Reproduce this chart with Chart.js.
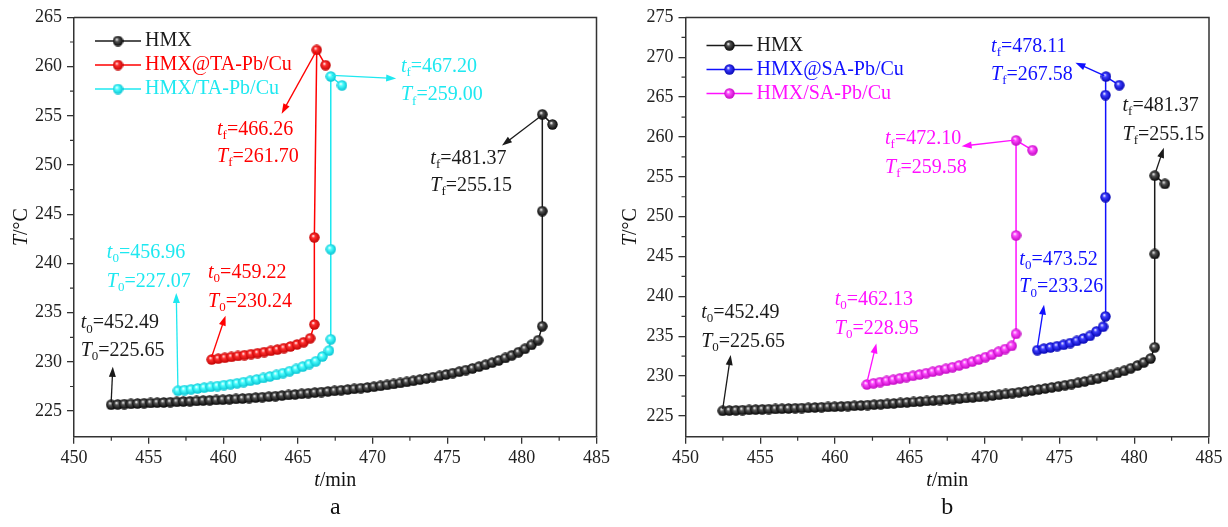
<!DOCTYPE html>
<html>
<head>
<meta charset="utf-8">
<script src="https://cdn.jsdelivr.net/npm/chart.js@4.4.1/dist/chart.umd.min.js"></script>
<style>
  html, body { margin: 0; padding: 0; background: #fff; }
  #wrap { position: relative; width: 1228px; height: 527px; }
  .panel { position: absolute; top: 0; width: 614px; height: 527px; }
</style>
</head>
<body>
<div id="wrap">
  <div class="panel" style="left:0"><canvas id="chartA" width="614" height="527"></canvas></div>
  <div class="panel" style="left:614px"><canvas id="chartB" width="614" height="527"></canvas></div>
</div>
<script>
// Temperature vs time, two panels (a: TA samples, b: SA samples)

// x/y tick values
const xTicks = [450, 455, 460, 465, 470, 475, 480, 485];
const xMinor = [452.5, 457.5, 462.5, 467.5, 472.5, 477.5, 482.5];
const yTicksA = [225, 230, 235, 240, 245, 250, 255, 260, 265];
const yMinorA = [227.5, 232.5, 237.5, 242.5, 247.5, 252.5, 257.5, 262.5];
const yTicksB = [225, 230, 235, 240, 245, 250, 255, 260, 265, 270, 275];
const yMinorB = [227.5, 232.5, 237.5, 242.5, 247.5, 252.5, 257.5, 262.5, 267.5, 272.5];

// HMX (same in both panels)
const hmxTime = [452.49, 452.93, 453.37, 453.81, 454.25, 454.69, 455.13, 455.57, 456.01, 456.45,
    456.89, 457.33, 457.77, 458.21, 458.65, 459.09, 459.53, 459.97, 460.41, 460.85,
    461.29, 461.73, 462.17, 462.61, 463.05, 463.49, 463.93, 464.37, 464.81, 465.25,
    465.69, 466.13, 466.57, 467.01, 467.45, 467.89, 468.33, 468.77, 469.21, 469.65,
    470.09, 470.53, 470.97, 471.41, 471.85, 472.29, 472.73, 473.17, 473.61, 474.05,
    474.49, 474.93, 475.37, 475.81, 476.25, 476.69, 477.13, 477.57, 478.01, 478.45,
    478.89, 479.33, 479.77, 480.21, 480.65, 481.09, 481.37, 481.37, 481.37, 482.05];
const hmxTemp = [225.65, 225.68, 225.71, 225.74, 225.77, 225.80, 225.83, 225.86, 225.88, 225.91,
    225.94, 225.97, 226.00, 226.03, 226.07, 226.10, 226.13, 226.16, 226.20, 226.24,
    226.28, 226.32, 226.37, 226.42, 226.47, 226.52, 226.58, 226.64, 226.70, 226.76,
    226.82, 226.88, 226.94, 227.00, 227.06, 227.12, 227.19, 227.26, 227.33, 227.40,
    227.48, 227.57, 227.66, 227.76, 227.86, 227.97, 228.08, 228.20, 228.32, 228.45,
    228.58, 228.72, 228.86, 229.01, 229.17, 229.34, 229.52, 229.71, 229.92, 230.15,
    230.40, 230.67, 230.98, 231.33, 231.73, 232.20, 233.62, 245.32, 255.15, 254.12];

// HMX@TA-Pb/Cu
const taCoreTime = [459.22, 459.66, 460.10, 460.54, 460.98, 461.42, 461.86, 462.30, 462.74, 463.18,
    463.62, 464.06, 464.50, 464.94, 465.38, 465.82, 466.10, 466.10, 466.26, 466.85];
const taCoreTemp = [230.24, 230.33, 230.42, 230.51, 230.60, 230.69, 230.79, 230.89, 231.00, 231.12,
    231.25, 231.40, 231.57, 231.77, 232.00, 232.40, 233.80, 242.65, 261.70, 260.15];

// HMX/TA-Pb/Cu
const taMixTime = [456.96, 457.40, 457.84, 458.28, 458.72, 459.16, 459.60, 460.04, 460.48, 460.92,
    461.36, 461.80, 462.24, 462.68, 463.12, 463.56, 464.00, 464.44, 464.88, 465.32,
    465.76, 466.20, 466.64, 467.08, 467.20, 467.20, 467.20, 467.95];
const taMixTemp = [227.07, 227.14, 227.22, 227.30, 227.38, 227.46, 227.55, 227.64, 227.73, 227.83,
    227.95, 228.08, 228.22, 228.37, 228.52, 228.68, 228.86, 229.06, 229.28, 229.52,
    229.78, 230.06, 230.55, 231.15, 232.30, 241.45, 259.00, 258.10];

// HMX@SA-Pb/Cu
const saCoreTime = [473.52, 473.96, 474.40, 474.84, 475.28, 475.72, 476.16, 476.60, 477.04, 477.48,
    477.92, 478.08, 478.08, 478.08, 478.11, 479.00];
const saCoreTemp = [233.26, 233.45, 233.60, 233.76, 233.93, 234.15, 234.42, 234.72, 235.05, 235.62,
    236.20, 237.50, 252.45, 265.25, 267.58, 266.50];

// HMX/SA-Pb/Cu
const saMixTime = [462.13, 462.57, 463.01, 463.45, 463.89, 464.33, 464.77, 465.21, 465.65, 466.09,
    466.53, 466.97, 467.41, 467.85, 468.29, 468.73, 469.17, 469.61, 470.05, 470.49,
    470.93, 471.37, 471.81, 472.10, 472.10, 472.10, 473.20];
const saMixTemp = [228.95, 229.10, 229.25, 229.40, 229.55, 229.72, 229.88, 230.04, 230.20, 230.37,
    230.55, 230.73, 230.92, 231.12, 231.34, 231.57, 231.82, 232.09, 232.38, 232.70,
    233.05, 233.40, 233.80, 235.30, 247.65, 259.58, 258.35];

// Colors
const colors = {
    black: '#1a1a1a',
    red: '#ff0000',
    cyan: '#1ee8f0',
    blue: '#1010ff',
    magenta: '#ff10ff',
    axis: '#333333'
};
const FONT = '"Liberation Serif", "Times New Roman", serif';

// little shaded ball used as marker
function sphere(mid, dark) {
    const size = 11;
    const c = document.createElement('canvas');
    c.width = c.height = size;
    const g = c.getContext('2d');
    const r = size / 2;
    const grad = g.createRadialGradient(r * 0.75, r * 0.7, 0.2, r, r, r);
    grad.addColorStop(0, '#ffffff');
    grad.addColorStop(0.3, mid);
    grad.addColorStop(1, dark);
    g.fillStyle = grad;
    g.beginPath();
    g.arc(r, r, r - 0.3, 0, Math.PI * 2);
    g.fill();
    return c;
}

function toPoints(ts, vs) {
    return ts.map((t, i) => ({ x: t, y: vs[i] }));
}

function series(label, ts, vs, color, ball) {
    return {
        label: label,
        data: toPoints(ts, vs),
        borderColor: color,
        backgroundColor: color,
        borderWidth: 1.5,
        pointStyle: ball,
        pointRadius: 5,
        tension: 0
    };
}

// text arrows (positions in data units)
const notesA = [
    { color: colors.black, x: 450.45, y: [233.93, 231.1], sub: '0', t: '452.49', T: '225.65', from: [452.49, 225.9], to: [452.6, 229.5] },
    { color: colors.cyan, x: 452.2, y: [241.08, 238.19], sub: '0', t: '456.96', T: '227.07', from: [456.96, 227.4], to: [456.85, 237.0] },
    { color: colors.red, x: 458.98, y: [239.04, 236.14], sub: '0', t: '459.22', T: '230.24', from: [459.22, 230.5], to: [460.15, 234.7] },
    { color: colors.red, x: 459.58, y: [253.59, 250.86], sub: 'f', t: '466.26', T: '261.70', from: [466.2, 261.5], to: [463.91, 255.22] },
    { color: colors.cyan, x: 471.9, y: [259.99, 257.1], sub: 'f', t: '467.20', T: '259.00', from: [467.3, 259.1], to: [471.58, 258.8] },
    { color: colors.black, x: 473.87, y: [250.62, 247.9], sub: 'f', t: '481.37', T: '255.15', from: [481.3, 255.0], to: [478.67, 251.98] }
];
const notesB = [
    { color: colors.black, x: 451.05, y: [237.91, 234.34], sub: '0', t: '452.49', T: '225.65', from: [452.49, 225.9], to: [453.02, 232.65] },
    { color: colors.magenta, x: 459.98, y: [239.6, 236.0], sub: '0', t: '462.13', T: '228.95', from: [462.13, 229.2], to: [462.76, 234.1] },
    { color: colors.blue, x: 472.32, y: [244.64, 241.15], sub: '0', t: '473.52', T: '233.26', from: [473.52, 233.5], to: [473.97, 238.96] },
    { color: colors.magenta, x: 463.34, y: [259.78, 256.2], sub: 'f', t: '472.10', T: '259.58', from: [472.0, 259.6], to: [468.46, 258.85] },
    { color: colors.blue, x: 470.43, y: [271.34, 267.77], sub: 'f', t: '478.11', T: '267.58', from: [478.0, 267.7], to: [476.07, 269.32] },
    { color: colors.black, x: 479.22, y: [263.9, 260.32], sub: 'f', t: '481.37', T: '255.15', from: [481.45, 255.7], to: [481.98, 258.64] }
];

function subText(ctx, x, y, sym, sub, rest, color) {
    ctx.fillStyle = color;
    ctx.textBaseline = 'middle';
    ctx.textAlign = 'left';
    ctx.font = 'italic 20px ' + FONT;
    ctx.fillText(sym, x, y);
    x += ctx.measureText(sym).width;
    ctx.font = '13px ' + FONT;
    ctx.fillText(sub, x, y + 6);
    x += ctx.measureText(sub).width;
    ctx.font = '20px ' + FONT;
    ctx.fillText(rest, x, y);
}

function arrow(ctx, x0, y0, x1, y1, color) {
    const ang = Math.atan2(y1 - y0, x1 - x0);
    const len = 10, half = 3.5;
    ctx.strokeStyle = color;
    ctx.fillStyle = color;
    ctx.lineWidth = 1.3;
    ctx.beginPath();
    ctx.moveTo(x0, y0);
    ctx.lineTo(x1 - Math.cos(ang) * len * 0.8, y1 - Math.sin(ang) * len * 0.8);
    ctx.stroke();
    ctx.beginPath();
    ctx.moveTo(x1, y1);
    ctx.lineTo(x1 - Math.cos(ang) * len + Math.sin(ang) * half, y1 - Math.sin(ang) * len - Math.cos(ang) * half);
    ctx.lineTo(x1 - Math.cos(ang) * len - Math.sin(ang) * half, y1 - Math.sin(ang) * len + Math.cos(ang) * half);
    ctx.closePath();
    ctx.fill();
}

// frame, minor ticks, titles, legend, notes
const decor = {
    id: 'decor',
    afterDraw(chart, args, opts) {
        const ctx = chart.ctx;
        const area = chart.chartArea;
        const xs = chart.scales.x, ys = chart.scales.y;
        ctx.save();

        ctx.strokeStyle = colors.axis;
        ctx.lineWidth = 1.5;
        ctx.beginPath();
        ctx.moveTo(area.left, area.top);
        ctx.lineTo(area.right, area.top);
        ctx.lineTo(area.right, area.bottom);
        ctx.stroke();

        ctx.lineWidth = 1.2;
        ctx.beginPath();
        xMinor.forEach(v => {
            const px = xs.getPixelForValue(v);
            ctx.moveTo(px, area.bottom);
            ctx.lineTo(px, area.bottom + 4);
        });
        opts.yMinor.forEach(v => {
            const py = ys.getPixelForValue(v);
            ctx.moveTo(area.left, py);
            ctx.lineTo(area.left - 4, py);
        });
        ctx.stroke();

        // x title
        const cx = (area.left + area.right) / 2;
        ctx.fillStyle = '#111';
        ctx.textBaseline = 'middle';
        ctx.font = 'italic 20px ' + FONT;
        const w1 = ctx.measureText('t').width;
        ctx.font = '20px ' + FONT;
        const w2 = ctx.measureText('/min').width;
        let x0 = cx - (w1 + w2) / 2;
        ctx.textAlign = 'left';
        ctx.font = 'italic 20px ' + FONT;
        ctx.fillText('t', x0, 481);
        ctx.font = '20px ' + FONT;
        ctx.fillText('/min', x0 + w1, 481);

        // y title
        const cy = (area.top + area.bottom) / 2;
        ctx.save();
        ctx.translate(opts.yTitleX, cy);
        ctx.rotate(-Math.PI / 2);
        ctx.font = 'italic 20px ' + FONT;
        const w3 = ctx.measureText('T').width;
        ctx.font = '20px ' + FONT;
        const w4 = ctx.measureText('/°C').width;
        x0 = -(w3 + w4) / 2;
        ctx.font = 'italic 20px ' + FONT;
        ctx.fillText('T', x0, 0);
        ctx.font = '20px ' + FONT;
        ctx.fillText('/°C', x0 + w3, 0);
        ctx.restore();

        // panel letter
        ctx.font = '24px ' + FONT;
        ctx.textAlign = 'center';
        ctx.fillStyle = '#111';
        ctx.fillText(opts.letter, cx, 508);

        // legend
        chart.data.datasets.forEach((ds, i) => {
            const ly = area.top + opts.legendTop + i * 24;
            const lx = area.left;
            ctx.strokeStyle = ds.borderColor;
            ctx.lineWidth = 1.5;
            ctx.beginPath();
            ctx.moveTo(lx + 21, ly);
            ctx.lineTo(lx + 67, ly);
            ctx.stroke();
            ctx.drawImage(ds.pointStyle, lx + 44 - 5.5, ly - 5.5);
            ctx.fillStyle = ds.borderColor;
            ctx.font = '20px ' + FONT;
            ctx.textAlign = 'left';
            ctx.fillText(ds.label, lx + 71, ly);
        });

        // notes
        opts.notes.forEach(n => {
            const px = xs.getPixelForValue(n.x);
            subText(ctx, px, ys.getPixelForValue(n.y[0]), 't', n.sub, '=' + n.t, n.color);
            subText(ctx, px, ys.getPixelForValue(n.y[1]), 'T', n.sub, '=' + n.T, n.color);
            arrow(ctx,
                xs.getPixelForValue(n.from[0]), ys.getPixelForValue(n.from[1]),
                xs.getPixelForValue(n.to[0]), ys.getPixelForValue(n.to[1]), n.color);
        });

        ctx.restore();
    }
};

function makeChart(id, datasets, yMax, yTicks, cfg) {
    const ctx = document.getElementById(id);
    return new Chart(ctx, {
        type: 'line',
        data: { datasets: datasets },
        plugins: [decor],
        options: {
            responsive: false,
            devicePixelRatio: 1,
            animation: false,
            layout: { padding: { left: 0, right: cfg.padRight, top: 17.4, bottom: 0 } },
            plugins: {
                legend: { display: false },
                tooltip: { enabled: false },
                decor: cfg
            },
            scales: {
                x: {
                    type: 'linear',
                    min: 450,
                    max: 485,
                    afterBuildTicks: ax => { ax.ticks = xTicks.map(v => ({ value: v })); },
                    afterFit: s => { s.height = 90.3; },
                    grid: { drawOnChartArea: false, drawTicks: true, tickLength: 7, color: colors.axis, lineWidth: 1.3 },
                    border: { display: true, color: colors.axis, width: 1.5 },
                    ticks: {
                        color: '#222',
                        padding: 4,
                        maxRotation: 0,
                        font: { family: FONT, size: 18 },
                        callback: v => String(v)
                    }
                },
                y: {
                    min: 222.4,
                    max: yMax,
                    afterBuildTicks: ax => { ax.ticks = yTicks.map(v => ({ value: v })); },
                    afterFit: s => { s.width = cfg.yWidth; },
                    grid: { drawOnChartArea: false, drawTicks: true, tickLength: 7, color: colors.axis, lineWidth: 1.3 },
                    border: { display: true, color: colors.axis, width: 1.5 },
                    ticks: {
                        color: '#222',
                        padding: 5,
                        font: { family: FONT, size: 18 },
                        callback: v => String(v)
                    }
                }
            }
        }
    });
}

const balls = {
    black: sphere('#555555', '#000000'),
    red: sphere('#ff3030', '#c00000'),
    cyan: sphere('#50ffff', '#00c0d0'),
    blue: sphere('#4040ff', '#0000b0'),
    magenta: sphere('#ff50ff', '#c000c0')
};

makeChart('chartA', [
    series('HMX', hmxTime, hmxTemp, colors.black, balls.black),
    series('HMX@TA-Pb/Cu', taCoreTime, taCoreTemp, colors.red, balls.red),
    series('HMX/TA-Pb/Cu', taMixTime, taMixTemp, colors.cyan, balls.cyan)
], 265, yTicksA, {
    padRight: 17, yWidth: 74, yTitleX: 22, letter: 'a', legendTop: 23.6, yMinor: yMinorA, notes: notesA
});

makeChart('chartB', [
    series('HMX', hmxTime, hmxTemp, colors.black, balls.black),
    series('HMX@SA-Pb/Cu', saCoreTime, saCoreTemp, colors.blue, balls.blue),
    series('HMX/SA-Pb/Cu', saMixTime, saMixTemp, colors.magenta, balls.magenta)
], 275, yTicksB, {
    padRight: 19, yWidth: 71.5, yTitleX: 17, letter: 'b', legendTop: 28, yMinor: yMinorB, notes: notesB
});
</script>
</body>
</html>
